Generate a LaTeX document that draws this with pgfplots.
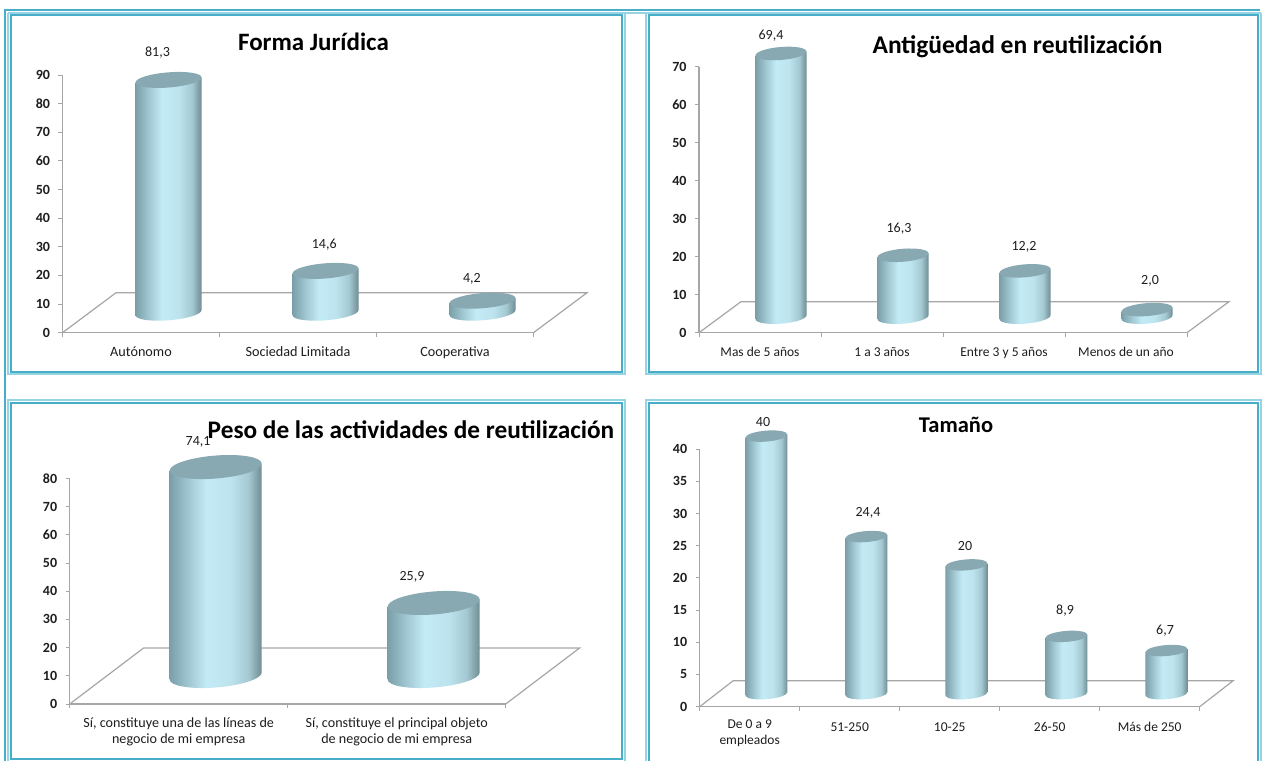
\documentclass[border=0pt]{standalone}
\usepackage{fontspec}
\setmainfont{Carlito}
\usepackage{pgfplots}
\usepackage{pgfplotstable}
\pgfplotsset{compat=1.18}

\definecolor{framedark}{RGB}{72, 173, 200}
\definecolor{framelight}{RGB}{150, 212, 228}
\definecolor{axisgray}{RGB}{166, 166, 166}
\definecolor{captop}{RGB}{136, 168, 178}
\definecolor{labelink}{RGB}{30, 30, 30}
\definecolor{cyl0}{RGB}{122, 159, 169}
\definecolor{cyl1}{RGB}{156, 195, 206}
\definecolor{cyl2}{RGB}{195, 235, 245}
\definecolor{cyl3}{RGB}{189, 228, 238}
\definecolor{cyl4}{RGB}{163, 200, 210}
\definecolor{cyl5}{RGB}{134, 165, 172}
\definecolor{cyl6}{RGB}{111, 141, 149}

% 25bp-75bp is the width of the path
\pgfdeclarehorizontalshading{cylbody}{100bp}{
	color(0bp)=(cyl0);
	color(25bp)=(cyl0);
	color(34bp)=(cyl1);
	color(45bp)=(cyl2);
	color(58bp)=(cyl3);
	color(68bp)=(cyl4);
	color(72bp)=(cyl5);
	color(75bp)=(cyl6);
	color(100bp)=(cyl6)
}

% #1,#2 on the unit ellipse, #3=1 for the foot of the cylinder
\newcommand\cp[3]{({(\cylDx+(#1)*\cylA)*1pt},{(\cylDy+(#2)*\cylB+0.076*(#1)*\cylA-(#3)*\cylh)*1pt})}

% one cylinder, the mark sits at the value; \cylh comes from the data
\pgfdeclareplotmark{cyl}{
	\path[draw=none, shade, shading=cylbody] \cp{-1}{0}{0} -- \cp{-1}{0}{1}
		.. controls \cp{-1}{-0.5523}{1} and \cp{-0.5523}{-1}{1} .. \cp{0}{-1}{1}
		.. controls \cp{0.5523}{-1}{1} and \cp{1}{-0.5523}{1} .. \cp{1}{0}{1}
		-- \cp{1}{0}{0} -- cycle;
	\path[draw=none, fill=captop] \cp{-1}{0}{0}
		.. controls \cp{-1}{-0.5523}{0} and \cp{-0.5523}{-1}{0} .. \cp{0}{-1}{0}
		.. controls \cp{0.5523}{-1}{0} and \cp{1}{-0.5523}{0} .. \cp{1}{0}{0}
		.. controls \cp{1}{0.5523}{0} and \cp{0.5523}{1}{0} .. \cp{0}{1}{0}
		.. controls \cp{-0.5523}{1}{0} and \cp{-1}{0.5523}{0} .. \cp{-1}{0}{0} -- cycle;
}

\pgfplotsset{
	panel/.style={
		axis lines=left,
		axis line style={-, draw=axisgray, line width=1.2pt},
		tick style={draw=axisgray, line width=0.9pt},
		tick align=outside,
		major tick length=4pt,
		enlargelimits=false,
		clip=false,
		xmin=0, ymin=0,
		x tick label as interval=true,
		x tick label style={align=center, text=labelink, yshift=-5pt,
			execute at begin node={\rule{0pt}{11pt}},
			font=\fontsize{13.5}{16}\selectfont},
		y tick label style={text=labelink, xshift=-5pt,
			font=\fontsize{14}{16}\selectfont\bfseries},
		/pgf/number format/assume math mode=true,
	},
	floor/.style={draw=axisgray, line width=1.2pt, mark=none, sharp plot},
	cylinders/.style={
		scatter, only marks, mark=cyl,
		scatter/@pre marker code/.code={},
		scatter/@post marker code/.code={},
		visualization depends on={rawy*#1 \as \cylh},
	},
	barlabels/.style={
		draw=none, mark=none, sharp plot,
		point meta=explicit symbolic,
		nodes near coords,
		every node near coord/.style={anchor=center, inner sep=0pt, text=labelink,
			font=\fontsize{14}{16}\selectfont},
	},
}

% x y are the bars, lx ly where the value label stands
\pgfplotstableread{
x   y    lab   lx    ly
0.5 81.3 81,3  0.605 98.0
1.5 14.6 14,6  1.667 30.6
2.5 4.2  4,2   2.608 18.7
}\formadata
\pgfplotstableread{
x   y    lab   lx    ly
0.5 69.4 69,4  0.590 78.1
1.5 16.3 16,3  1.639 27.3
2.5 12.2 12,2  2.664 22.6
3.5 2.0  2,0   3.697 13.6
}\antigdata
\pgfplotstableread{
x   y    lab   lx    ly
0.5 74.1 74,1  0.589 92.9
1.5 25.9 25,9  1.570 45.0
}\pesodata
\pgfplotstableread{
x   y    lab   lx    ly
0.5 40   40    0.633 44.2
1.5 24.4 24,4  1.683 30.1
2.5 20   20    2.653 25.0
3.5 8.9  8,9   3.653 14.9
4.5 6.7  6,7   4.653 11.8
}\tamanodata

\begin{document}
\begin{tikzpicture}[x=1pt, y=1pt]
	\useasboundingbox (0,0) rectangle (1269,761);
	\fill[white] (0,0) rectangle (1269,761);

	% frames, typed top down in pixels
	\begin{scope}[yscale=-1, yshift=-761pt]
		\draw[framedark, line width=2.4pt] (5.2,761) -- (5.2,10) -- (1260,10);
		\draw[framelight, line width=1.2pt] (8,13) -- (1261,13);
		\draw[framelight, line width=1.2pt] (8,13) -- (8,374) -- (625,374) -- (625,13);
		\draw[framedark, line width=2pt] (11,15.5) rectangle (622,371.7);
		\draw[framelight, line width=1.2pt] (646,13) -- (646,374) -- (1261,374) -- (1261,13);
		\draw[framedark, line width=2pt] (649,15.5) rectangle (1258,371.7);
		\draw[framelight, line width=1.2pt] (8,761) -- (8,400) -- (625,400) -- (625,761);
		\draw[framedark, line width=2pt] (11,403) rectangle (622,759.3);
		\draw[framelight, line width=1.2pt] (646,761) -- (646,400) -- (1261,400) -- (1261,761);
		\draw[framedark, line width=2pt] (649,761) -- (649,403) -- (1258,403) -- (1258,761);
	\end{scope}

	% Forma Juridica
	\def\cylA{33}\def\cylB{7.6}\def\cylDx{27.5}\def\cylDy{20}
	\begin{axis}[panel, at={(62.5pt,428.3pt)}, anchor=origin,
		x=157pt, y=2.863pt, xmax=3, ymax=90,
		xtick={0,1,2,3}, ytick={0,10,...,90},
		x tick label style={font=\fontsize{14.2}{16}\selectfont},
		xticklabels={Autónomo,Sociedad Limitada,Cooperativa}]
		\addplot[floor] coordinates {(0,0) (0.341,13.97) (3.341,13.97) (3,0)};
		\addplot[cylinders=2.863] table[x=x, y=y] {\formadata};
		\addplot[barlabels] table[x=lx, y=ly, meta=lab] {\formadata};
	\end{axis}
	\node[font=\fontsize{25}{28}\selectfont\bfseries] at (313.5,719) {Forma Jurídica};

	% Antiguedad
	\def\cylA{25.5}\def\cylB{6.5}\def\cylDx{21}\def\cylDy{15.5}
	\begin{axis}[panel, at={(699pt,428.3pt)}, anchor=origin,
		x=122pt, y=3.8pt, xmax=4, ymax=70,
		xtick={0,1,2,3,4}, ytick={0,10,...,70},
		xticklabels={Mas de 5 años,1 a 3 años,Entre 3 y 5 años,Menos de un año}]
		\addplot[floor] coordinates {(0,0) (0.344,8.16) (4.344,8.16) (4,0)};
		\addplot[cylinders=3.8] table[x=x, y=y] {\antigdata};
		\addplot[barlabels] table[x=lx, y=ly, meta=lab] {\antigdata};
	\end{axis}
	\node[font=\fontsize{25.5}{28}\selectfont\bfseries] at (1017.5,714) {Antigüedad en reutilización};

	% Peso
	\def\cylA{46}\def\cylB{11.5}\def\cylDx{37}\def\cylDy{28}
	\begin{axis}[panel, at={(69.7pt,57pt)}, anchor=origin,
		x=218pt, y=2.82pt, xmax=2, ymax=80,
		xtick={0,1,2}, ytick={0,10,...,80},
		x tick label style={yshift=-1pt, font=\fontsize{14.1}{16}\selectfont},
		xticklabels={{Sí, constituye una de las líneas de\\negocio de mi empresa},{Sí, constituye  el principal objeto\\de negocio de mi empresa}}]
		\addplot[floor] coordinates {(0,0) (0.339,19.86) (2.339,19.86) (2,0)};
		\addplot[cylinders=2.82] table[x=x, y=y] {\pesodata};
		\addplot[barlabels] table[x=lx, y=ly, meta=lab] {\pesodata};
	\end{axis}
	\node[font=\fontsize{25.3}{28}\selectfont\bfseries] at (411,331) {Peso de las actividades de reutilización};

	% Tamano
	\def\cylA{21}\def\cylB{5.5}\def\cylDx{16.7}\def\cylDy{13}
	\begin{axis}[panel, at={(699.7pt,54.3pt)}, anchor=origin,
		x=100pt, y=6.44pt, xmax=5, ymax=40,
		xtick={0,1,2,3,4,5}, ytick={0,5,...,40},
		x tick label style={yshift=-1pt},
		xticklabels={{De 0 a 9\\empleados},51-250,10-25,26-50,Más de 250}]
		\addplot[floor] coordinates {(0,0) (0.335,4.04) (5.335,4.04) (5,0)};
		\addplot[cylinders=6.44] table[x=x, y=y] {\tamanodata};
		\addplot[barlabels] table[x=lx, y=ly, meta=lab] {\tamanodata};
	\end{axis}
	\node[font=\fontsize{22.5}{24}\selectfont\bfseries] at (956,336) {Tamaño};
\end{tikzpicture}
\end{document}
